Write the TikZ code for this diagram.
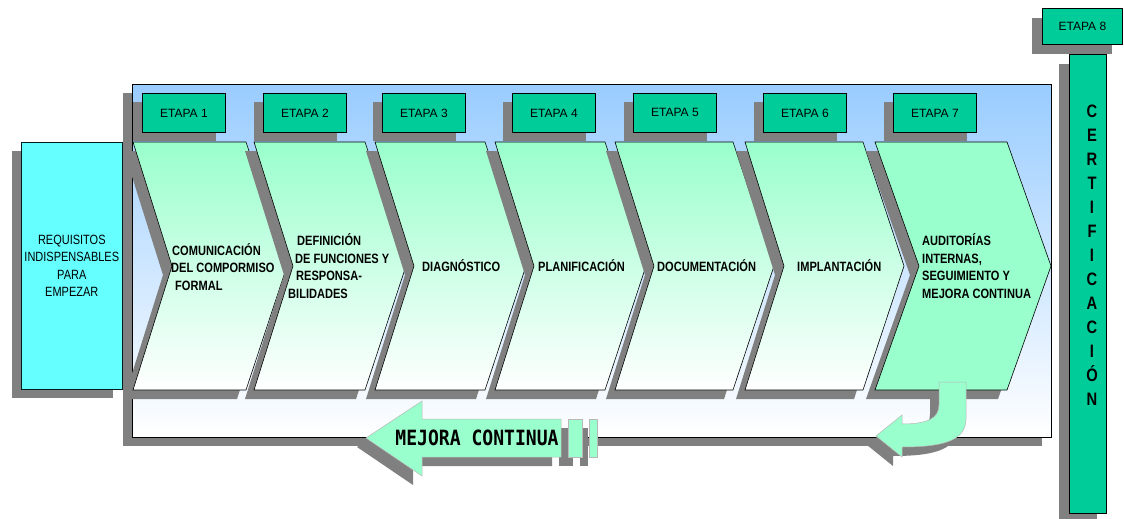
\documentclass[tikz,border=0pt]{standalone}
\usepackage{fontspec}
\setmainfont{Liberation Sans}
\newfontfamily\narrowfont{Liberation Sans}[FakeStretch=0.82]
\newfontfamily\narrowbold{Liberation Sans Bold}[FakeStretch=0.82]
\newfontfamily\typefont{DejaVu Sans Mono Bold}[FakeStretch=0.86]
\definecolor{boxgreen}{HTML}{00CC99}
\definecolor{palegreen}{HTML}{99FFCC}
\definecolor{skyblue}{HTML}{99CCFF}
\definecolor{reqcyan}{HTML}{66FFFF}
\definecolor{shadowgray}{HTML}{808080}
\definecolor{arrowedge}{HTML}{B8B8B8}
\tikzset{
  shadowfill/.style={fill=shadowgray, draw=none},
  etapabox/.style={draw=black, fill=boxgreen, line width=0.8pt, inner sep=0pt,
    minimum width=83, minimum height=39, font=\fontsize{12}{14}\selectfont},
  reqbox/.style={draw=black!75!teal, fill=reqcyan, line width=0.6pt, inner sep=0pt,
    align=center, font=\narrowfont\fontsize{13.4}{17.5}\selectfont},
  chevron/.style={draw=black, line width=0.6pt, top color=palegreen, bottom color=white},
  chevtext/.style={anchor=west, inner sep=0pt, align=left,
    font=\narrowbold\fontsize{13.5}{17.5}\selectfont},
  loopshape/.style={fill=palegreen, draw=arrowedge, line width=0.5pt},
}
\begin{document}
\begin{tikzpicture}[x=1pt, y=-1pt]
\useasboundingbox (0,0) rectangle (1124,519);

% framed panel with a sky gradient
\fill[shadowfill] (123,93) rectangle (1042,446);
\shade[draw=black, line width=0.8pt, top color=skyblue, bottom color=white]
  (132,84) rectangle (1051,437);

% prerequisites box
\fill[shadowfill] (12,151) rectangle (113,398);
\node[reqbox, minimum width=101, minimum height=247, anchor=north west] (req) at (21,142)
  {REQUISITOS\\INDISPENSABLES\\PARA\\EMPEZAR};

% stage labels 1..7
\foreach \x [count=\n] in {142,263,382,512,633,763,893} {
  \fill[shadowfill] (\x-9,102) rectangle (\x+74,141);
  \node[etapabox, anchor=north west] (etapa\n) at (\x,93) {ETAPA \n};
}

% chevrons of stages 1..6 (left top x / right top x)
\foreach \L/\R in {133/246, 254/365, 375/485, 495/605, 615/733, 745/863} {
  \fill[shadowfill, shift={(-9,9)}]
    (\L,142) -- (\R,142) -- (\R+41,266) -- (\R,390) -- (\L,390) -- (\L+39,266) -- cycle;
  \path[chevron]
    (\L,142) -- (\R,142) -- (\R+41,266) -- (\R,390) -- (\L,390) -- (\L+39,266) -- cycle;
}
% chevron of stage 7
\fill[shadowfill, shift={(-9,9)}]
  (875,142) -- (1007,142) -- (1051,266) -- (1007,390) -- (875,390) -- (919,266) -- cycle;
\path[draw=black, line width=0.6pt, fill=palegreen]
  (875,142) -- (1007,142) -- (1051,266) -- (1007,390) -- (875,390) -- (919,266) -- cycle;

% stage texts
\node[chevtext] (s1) at (171,267)
  {\hspace*{1pt}COMUNICACIÓN\\DEL COMPORMISO\\\hspace*{4pt}FORMAL};
\node[chevtext] (s2) at (288,266)
  {\hspace*{9pt}DEFINICIÓN\\\hspace*{7pt}DE FUNCIONES Y\\\hspace*{8pt}RESPONSA-\\BILIDADES};
\node[chevtext] (s3) at (422,266) {DIAGNÓSTICO};
\node[chevtext] (s4) at (538,266) {PLANIFICACIÓN};
\node[chevtext] (s5) at (657,266) {DOCUMENTACIÓN};
\node[chevtext] (s6) at (797,266) {IMPLANTACIÓN};
\node[chevtext] (s7) at (922,266)
  {AUDITORÍAS\\INTERNAS,\\SEGUIMIENTO Y\\MEJORA CONTINUA};

% return arrow running back to the start
\fill[shadowfill, shift={(-9,9)}]
  (366,438) -- (422,401) -- (422,419) -- (561,419) -- (561,457) -- (422,457) -- (422,476) -- cycle;
\fill[shadowfill, shift={(-9,9)}] (568,419) rectangle (582,457);
\fill[shadowfill, shift={(-9,9)}] (589,419) rectangle (597,457);
\path[loopshape]
  (366,438) -- (422,401) -- (422,419) -- (561,419) -- (561,457) -- (422,457) -- (422,476) -- cycle;
\path[loopshape] (568,419) rectangle (582,457);
\path[loopshape] (589,419) rectangle (597,457);
\node[font=\typefont\fontsize{21}{21}\selectfont, inner sep=0pt] (mejora) at (477,438)
  {MEJORA CONTINUA};

% curved arrow leaving stage 7
\fill[shadowfill, shift={(-9,9)}]
  (939,382) -- (966,382) -- (966,418) .. controls (966,438) and (950,447) .. (902,447)
  -- (902,457) -- (876,436) -- (902,415) -- (902,424)
  .. controls (928,424) and (939,418) .. (939,405) -- cycle;
\path[loopshape]
  (939,382) -- (966,382) -- (966,418) .. controls (966,438) and (950,447) .. (902,447)
  -- (902,457) -- (876,436) -- (902,415) -- (902,424)
  .. controls (928,424) and (939,418) .. (939,405) -- cycle;

% certification column and stage 8
\fill[shadowfill] (1059,64) rectangle (1097,522);
\path[draw=black, line width=0.8pt, fill=boxgreen] (1069,54) rectangle (1106,513);
\fill[shadowfill] (1032,18) rectangle (1112,54);
\node[etapabox, minimum width=80, minimum height=36, anchor=north west] (etapa8) at (1042,8)
  {ETAPA 8};
\node[inner sep=0pt, align=center, font=\narrowbold\fontsize{18}{24}\selectfont]
  (cert) at (1092,255) {C\\E\\R\\T\\I\\F\\I\\C\\A\\C\\I\\Ó\\N};
\end{tikzpicture}
\end{document}
